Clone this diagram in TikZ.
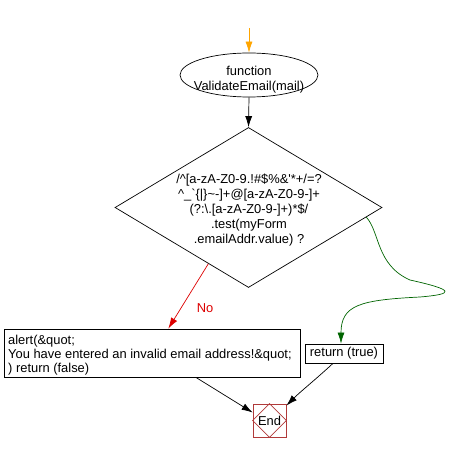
\documentclass[tikz,border=0pt]{standalone}
\usepackage{fontspec}
\setmainfont{Liberation Sans}
\usetikzlibrary{shapes.geometric,arrows.meta,calc}
\definecolor{endred}{HTML}{B03A3A}
\definecolor{grn}{HTML}{006400}
\definecolor{org}{HTML}{FFA500}
\definecolor{rd}{HTML}{DD0000}
\begin{document}
\begin{tikzpicture}[x=1pt,y=-1pt,
  every node/.style={font=\fontsize{12.9}{15}\selectfont},
  arr/.style={-{Latex[length=11pt,width=7pt]}, line width=0.7pt},
  box/.style={draw, line width=0.8pt, rectangle}]
\useasboundingbox (0,0) rectangle (464,452);
% start ellipse
\node[ellipse, draw, line width=0.7pt, minimum width=138pt, minimum height=44pt, inner sep=0pt] (fn) at (249,75) {};
\node[align=center, inner sep=0pt] (fnt) at (249,80) {function\\ValidateEmail(mail)};
\coordinate (start) at (249,28);
% decision
\node[diamond, draw, line width=0.7pt, minimum width=267pt, minimum height=160pt, inner sep=0pt] (d) at (248.5,207.5) {};
\node[align=center, inner sep=0pt] (dt) at (249,210) {/\textasciicircum[a-zA-Z0-9.!\#\$\%\&\textquotesingle*+/=?\\
\textasciicircum\_\textasciigrave\{\textbar\}\textasciitilde-]+@[a-zA-Z0-9-]+\\
(?:\textbackslash.[a-zA-Z0-9-]+)*\$/\\
.test(myForm\\
.emailAddr.value) ?};
% alert box
\node[box, minimum width=296pt, minimum height=48pt, inner sep=0pt] (alert) at (152,353) {};
\node[align=left, anchor=west, inner sep=0pt, font=\fontsize{12.9}{14}\selectfont] (alertt) at (8,355) {alert(\&quot;\\You have entered an invalid email address!\&quot;\\) return (false)};
% return true
\node[box, minimum width=78pt, minimum height=19pt, inner sep=0pt] (ret) at (344,353.5) {return (true)};
% end
\node[draw=endred, line width=0.8pt, rectangle, minimum width=33pt, minimum height=33pt, inner sep=0pt] (e) at (269.5,420.5) {};
\node[inner sep=0pt] (et) at (e.center) {End};
\draw[endred, line width=0.6pt] (e.north) -- (e.east) -- (e.south) -- (e.west) -- cycle;
% connectors
\draw[arr, org] (start) -- (fn.north);
\draw[arr] (fn.south) -- (d.north);
\draw[arr, rd] ($(d.west)!0.7!(d.south)$) -- ($(alert.north west)!0.555!(alert.north east)$);
\node[text=rd, inner sep=0pt] (no) at (205,308) {No};
\draw[arr, grn] ($(d.east)!0.12!(d.south)$) .. controls (380,232) and (376,265) .. (410,280)
   .. controls (455,290) and (455,294) .. (420,297)
   .. controls (360,300) and (341,305) .. ($(ret.north)+(-3,0)$);
\draw[arr] ($(alert.south west)!0.648!(alert.south east)$) -- ($(e.west)+(0,-8)$);
\draw[arr] ($(ret.south west)!0.36!(ret.south east)$) .. controls (315,380) and (300,392) .. ($(e.north east)+(0,2)$);
\end{tikzpicture}
\end{document}
